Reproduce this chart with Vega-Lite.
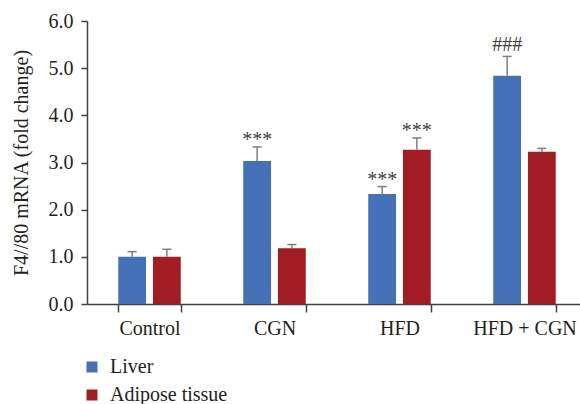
{
  "$schema": "https://vega.github.io/schema/vega-lite/v6.json",
  "width": 500,
  "height": 283,
  "autosize": "none",
  "padding": {"left": 87, "top": 21, "right": 0, "bottom": 100},
  "background": "white",
  "config": {"view": {"stroke": null}, "font": "Liberation Serif"},
  "data": {"values": [
    {"group": "Control", "tissue": "Liver", "value": 1.00, "upper": 1.11, "sig": ""},
    {"group": "Control", "tissue": "Adipose tissue", "value": 1.00, "upper": 1.16, "sig": ""},
    {"group": "CGN", "tissue": "Liver", "value": 3.03, "upper": 3.33, "sig": "***"},
    {"group": "CGN", "tissue": "Adipose tissue", "value": 1.18, "upper": 1.26, "sig": ""},
    {"group": "HFD", "tissue": "Liver", "value": 2.33, "upper": 2.49, "sig": "***"},
    {"group": "HFD", "tissue": "Adipose tissue", "value": 3.27, "upper": 3.52, "sig": "***"},
    {"group": "HFD + CGN", "tissue": "Liver", "value": 4.84, "upper": 5.25, "sig": "###"},
    {"group": "HFD + CGN", "tissue": "Adipose tissue", "value": 3.23, "upper": 3.30, "sig": ""}
  ]},
  "encoding": {
    "x": {
      "field": "group", "type": "nominal",
      "sort": ["Control", "CGN", "HFD", "HFD + CGN"],
      "scale": {"paddingInner": 0.5, "paddingOuter": 0.25},
      "axis": {
        "title": null, "labelAngle": 0, "labelFontSize": 20, "labelColor": "#231f20",
        "tickBand": "extent", "tickSize": 8, "domainColor": "#404040", "tickColor": "#404040",
        "domainWidth": 1.5, "tickWidth": 1.5, "labelPadding": 6
      }
    },
    "xOffset": {
      "field": "tissue", "type": "nominal",
      "sort": ["Liver", "Adipose tissue"],
      "scale": {"paddingInner": 0.2}
    }
  },
  "layer": [
    {
      "mark": {"type": "bar"},
      "encoding": {
        "y": {
          "field": "value", "type": "quantitative",
          "title": "F4//80 mRNA (fold change)",
          "scale": {"domain": [0, 6], "nice": false},
          "axis": {
            "values": [0, 1, 2, 3, 4, 5, 6], "format": ".1f", "grid": false,
            "tickSize": 6, "labelFontSize": 20, "titleFontSize": 20, "titleFontWeight": "normal",
            "labelPadding": 8, "titlePadding": 17, "labelColor": "#231f20", "titleColor": "#231f20",
            "domainColor": "#404040", "tickColor": "#404040", "domainWidth": 1.5, "tickWidth": 1.5
          }
        },
        "color": {
          "field": "tissue", "type": "nominal",
          "scale": {"domain": ["Liver", "Adipose tissue"], "range": ["#4571B8", "#A31C24"]},
          "legend": {
            "title": null, "orient": "none", "legendX": -5, "legendY": 336,
            "symbolType": "square", "symbolSize": 121, "labelFontSize": 20, "labelColor": "#231f20",
            "rowPadding": 8, "labelOffset": 8, "symbolStrokeWidth": 0, "symbolOpacity": 1
          }
        }
      }
    },
    {
      "mark": {"type": "rule", "color": "#7f7f7f", "strokeWidth": 1.5},
      "encoding": {
        "y": {"field": "value", "type": "quantitative", "title": "F4//80 mRNA (fold change)"},
        "y2": {"field": "upper"}
      }
    },
    {
      "mark": {"type": "tick", "color": "#7f7f7f", "thickness": 1.5, "size": 9, "opacity": 1},
      "encoding": {
        "y": {"field": "upper", "type": "quantitative", "title": "F4//80 mRNA (fold change)"}
      }
    },
    {
      "transform": [{"filter": "datum.sig == '***'"}],
      "mark": {"type": "text", "fontSize": 20, "color": "#404040", "baseline": "alphabetic", "dy": -1},
      "encoding": {
        "y": {"field": "upper", "type": "quantitative", "title": "F4//80 mRNA (fold change)"},
        "text": {"field": "sig"}
      }
    },
    {
      "transform": [{"filter": "datum.sig == '###'"}],
      "mark": {"type": "text", "fontSize": 20, "color": "#404040", "baseline": "alphabetic", "dy": -5},
      "encoding": {
        "y": {"field": "upper", "type": "quantitative", "title": "F4//80 mRNA (fold change)"},
        "text": {"field": "sig"}
      }
    }
  ]
}
